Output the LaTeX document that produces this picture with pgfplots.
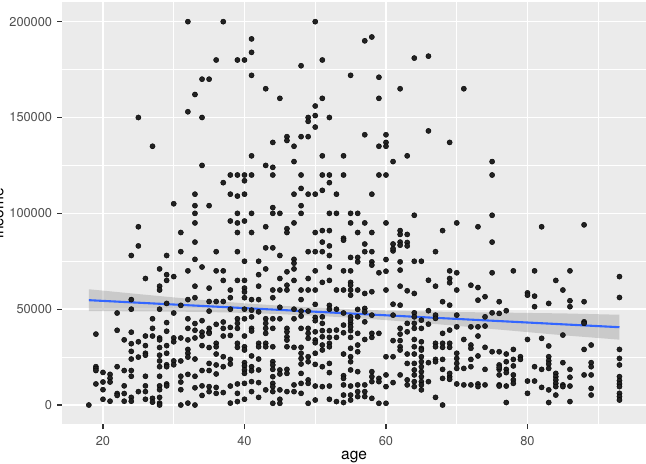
\documentclass[border=0pt]{standalone}
\usepackage{fontspec}
\setmainfont{TeX Gyre Heros}
\usepackage{pgfplots}
\pgfplotsset{compat=1.18}
\usepgfplotslibrary{fillbetween}
\definecolor{panel}{HTML}{EBEBEB}
\definecolor{ticktext}{HTML}{4D4D4D}
\definecolor{tickmark}{HTML}{333333}
\definecolor{lmblue}{HTML}{3366FF}
\definecolor{band}{HTML}{999999}
\definecolor{pt}{HTML}{222222}
\begin{document}
\begin{tikzpicture}
\begin{axis}[name=ax, scale only axis, width=583.7bp, height=421.7bp,
  xmin=14.25, xmax=96.75, ymin=-10000, ymax=210000,
  axis background/.style={fill=panel},
  axis line style={draw=none},
  grid=both,
  major grid style={white, line width=1.4bp},
  minor grid style={white, line width=0.7bp},
  xtick={20,40,60,80}, minor xtick={30,50,70,90},
  ytick={0,50000,100000,150000,200000}, minor ytick={25000,75000,125000,175000},
  xticklabels={20,40,60,80},
  yticklabels={0,50000,100000,150000,200000},
  scaled ticks=false,
  tick align=outside, major tick length=5bp, minor tick length=0pt,
  tick style={tickmark, line width=1.3bp},
  xtick pos=left, ytick pos=left,
  tick label style={font=\fontsize{12.8bp}{14bp}\selectfont, text=ticktext, inner sep=0pt},
  xticklabel style={anchor=north, yshift=-7.2bp},
  yticklabel style={anchor=east, xshift=-5bp},
]
\addplot[only marks, mark=*, mark size=2.6bp, mark options={fill=pt, draw=none}] coordinates {
(32,200000)(34,170000)(35,170000)(33,162000)(32,153000)(25,150000)(34,150000)(27,135000)(34,125000)(33,110000)(30,105000)(33,104000)(35,104000)(33,100000)
(37,200000)(50,200000)(41,191000)(41,184000)(36,180000)(39,180000)(40,180000)(48,177000)(51,180000)(41,172000)(55,172000)(43,165000)(45,160000)(51,160000)(50,156000)(50,151000)(49,150000)(49,148000)(52,150000)(50,145000)(46,140000)(46,138000)(48,140000)(49,140000)(44,137000)(47,135000)(41,130000)(51,130000)(54,130000)(43,125000)(44,124000)(47,127000)(38,120000)(39,120000)(40,120000)(41,120000)(40,117000)(44,120000)(48,120000)(51,120000)(52,120000)(54,120000)(37,116000)(52,116000)(48,113000)(51,112000)(38,110000)(39,109000)(40,110000)(47,110000)(49,110000)(50,110000)(53,110000)(44,103000)(48,104000)(39,100000)(41,100000)(44,100000)(45,100000)(48,100000)(52,100000)(53,100000)(55,100000)
(57,190000)(58,192000)(64,181000)(66,182000)(59,171000)(62,165000)(71,165000)(59,160000)(57,141000)(60,141000)(66,143000)(69,137000)(59,135000)(60,137000)(60,135000)(63,130000)(61,127000)(75,127000)(59,120000)(60,120000)(75,120000)(58,110000)(56,100000)(64,99000)(75,99000)
(33,95000)(25,93000)(31,90000)(33,85000)(25,83000)(24,78000)(29,78000)(31,80000)(33,76000)(28,71000)(32,70000)(34,72000)(29,68000)(30,67000)(29,65000)(26,66000)(28,62000)(28,60000)(33,62000)(35,61000)(32,55000)(33,56000)(24,55000)(35,54000)(29,53000)(31,52000)(24,50000)(28,50000)(35,49000)(22,48000)(30,48000)(27,45000)(32,45000)(33,42500)(34,44000)(29,43000)(27,40000)(32,40000)(33,39000)(34,38000)(35,40000)(22,39000)(19,37000)(24,38000)(29,38500)(26,36000)(27,36000)(28,35000)(28,34000)(30,35000)(30,33000)(31,35000)(32,34000)(33,35000)(34,36000)(35,38000)(23,34000)(25,33000)(24,32000)(26,31000)(26,27000)(26,26000)(24,28000)(28,30000)(28,26000)(29,31000)(29,27000)(32,29000)(32,27000)(32,25000)(33,24000)(34,31000)(35,30000)(25,25000)(24,24000)(31,23000)(30,23000)(30,21000)(29,21000)(29,20000)(28,23000)(28,20000)(19,20000)(19,19000)(19,18000)(22,20000)(23,18000)(24,18000)(24,15000)(20,17000)(21,16000)(21,14000)(21,12000)(20,12000)(19,11000)(20,8000)(20,3000)(21,2000)(18,0)(22,6000)(22,5000)(23,10000)(23,6000)(23,2000)(24,4000)(24,2000)(25,7000)(26,15000)(26,10000)(26,7000)(26,3000)(27,3500)(27,1500)(28,15000)(28,10000)(28,8000)(28,4000)(28,1000)(28,0)(29,11000)(29,10000)(31,15000)(31,12000)(31,8000)(31,0)(32,16000)(32,1000)(33,15000)(33,9000)(33,0)(34,18000)(34,10000)(34,5000)(35,7000)(35,18000)
(38,96000)(39,95000)(40,96000)(43,93000)(47,95000)(55,95000)(39,90000)(41,90000)(46,92000)(46,90000)(50,90000)(51,91000)(52,91000)(54,87000)(54,86000)(51,85000)(52,83000)(43,82000)(44,82000)(45,78000)(36,80000)(39,80000)(49,80000)(50,80000)(51,80000)(52,78000)(47,76000)(47,74000)(47,71000)(40,75000)(42,75000)(55,77000)(43,71000)(36,70000)(37,70000)(46,69500)(50,70000)(54,70000)(55,70000)(52,72000)(42,68000)(47,65000)(37,65000)(39,65000)(40,65000)(45,66000)(49,66000)(51,64000)(52,65000)(55,64000)(55,62500)(38,60000)(40,61000)(40,59000)(42,62000)(44,60000)(45,60000)(46,60000)(46,62500)(48,60000)(49,60000)(50,60000)(53,60000)(54,60000)(55,60000)(55,57300)(38,56000)(40,56000)(44,56000)(48,55000)(50,52500)(36,54000)(37,54000)(41,55000)(42,55000)(52,52000)(52,50000)(53,50000)(38,50000)(40,50000)(41,49500)(42,48600)(45,51000)(47,50000)(48,49000)(48,46400)(49,49000)(50,45700)(50,44000)(54,48000)(40,45000)(41,46000)(43,45000)(44,45000)(45,45000)(47,45000)(51,46000)(55,46000)(37,43300)(36,42100)(38,40500)(39,45000)(39,42600)(39,40000)(35,37400)(37,40000)(37,36000)(38,36300)(41,40000)(41,38600)(43,42600)(43,40000)(43,37400)(44,40000)(46,40000)(46,38200)(46,35600)(46,33900)(48,40000)(49,40000)(49,37400)(49,34800)(50,38200)(50,33900)(50,32500)(51,42600)(51,38800)(51,35600)(52,38800)(52,35300)(53,35300)(53,39100)(54,41700)(54,37700)(55,42600)(55,38800)(55,35300)(40,36000)(42,32200)(42,30400)(43,32200)(43,30400)(44,30400)(36,32200)(36,30400)(36,26600)(39,32200)(39,30100)(40,30400)(40,28700)(41,25600)(46,30400)(47,30100)(48,30100)(48,27000)(48,24300)(49,25200)(49,22600)(50,27000)(51,31300)(51,28700)(52,32200)(52,30400)(54,26600)(55,25200)(55,22600)(37,25200)(38,23800)(38,21400)(35,21700)(36,20900)(37,20000)(36,16200)(40,22100)(40,20400)(40,18300)(40,16500)(41,20000)(41,17900)(42,24000)(42,18300)(44,22600)(44,20900)(44,18600)(44,14800)(45,18300)(46,18600)(46,16500)(45,16200)(48,21400)(48,16500)(49,13100)(49,11300)(50,21200)(51,20000)(52,21700)(52,16900)(54,15300)(54,13900)(54,10500)(55,18300)(38,9900)(39,6100)(39,11000)(40,11300)(41,12200)(35,9600)(36,9200)(36,6100)(37,6500)(38,1000)(39,1800)(40,3000)(42,11700)(42,4000)(43,7900)(44,11300)(44,9600)(44,7000)(44,900)(45,7900)(45,3000)(45,900)(46,7000)(47,10500)(47,7000)(48,11300)(48,6100)(49,900)(50,9900)(50,2600)(51,9600)(52,9900)(52,3000)(53,1800)(54,5200)(54,1300)(55,5200)(55,2600)(41,7000)
(57,95000)(60,95000)(70,95000)(73,93000)(62,91000)(62,89000)(63,89000)(68,91000)(56,90000)(58,90000)(75,85000)(57,84000)(61,84000)(62,85000)(62,83400)(63,84800)(63,83000)(61,80400)(61,81600)(57,80000)(58,80000)(67,80000)(56,77000)(56,74700)(58,74700)(58,73000)(60,75900)(62,74700)(64,75000)(65,75000)(59,69000)(60,69800)(62,70400)(69,70000)(70,69000)(75,69000)(66,65100)(69,66000)(69,63800)(67,62000)(72,62500)(73,61300)(56,60000)(57,58200)(58,59100)(60,60000)(62,62000)(63,59600)(64,58200)(70,60000)(73,54700)(74,56500)(68,53900)(69,52100)(61,52600)(62,52100)(57,50400)(57,48600)(56,49900)(58,46900)(57,43400)(56,46000)(61,46900)(63,42600)(64,48100)(64,46000)(64,42600)(64,40000)(65,44300)(65,40000)(66,42200)(66,49200)(67,46900)(67,45200)(70,46900)(70,40800)(72,40800)(73,40800)(74,46000)(74,41200)(75,48100)(55,44300)(55,40800)(56,37400)(57,34200)(58,35300)(58,37400)(59,37400)(61,33600)(62,40000)(62,37000)(62,33600)(62,30400)(62,28700)(63,38200)(64,34200)(64,30400)(65,33000)(65,29600)(67,32200)(67,30400)(68,37400)(68,32200)(68,30100)(69,39100)(69,32200)(69,30100)(71,34200)(72,31300)(72,29600)(73,36000)(74,30100)(75,27800)(76,27800)(56,31300)(56,27800)(55,29600)(60,25200)(61,25200)(63,26600)(63,21700)(64,26600)(64,21700)(65,28700)(65,25200)(65,22600)(65,20000)(65,17400)(65,14800)(65,12200)(65,7900)(66,22100)(67,23800)(67,22600)(68,23800)(68,18600)(69,14800)(69,16500)(70,27000)(70,24300)(70,21700)(70,19100)(71,19100)(72,23800)(72,20000)(73,25600)(74,18600)(76,20900)(76,18600)(56,17400)(58,17400)(58,14800)(58,12200)(59,13900)(59,12200)(60,15700)(61,11700)(62,15700)(63,13100)(63,10500)(64,18300)(64,15700)(64,12200)(64,9600)(65,10500)(66,12200)(68,13900)(69,13400)(70,11000)(71,10500)(72,10500)(73,11000)(73,9600)(74,10500)(76,10500)(55,9900)(56,10500)(56,7000)(57,10500)(57,7000)(57,4400)(56,4400)(58,3500)(59,900)(60,900)(60,9600)(67,4000)(68,0)
(82,93000)(88,94000)(78,70000)(81,70000)(86,70000)(93,67000)(84,65000)(85,60000)(80,58500)(80,57300)(81,56800)(76,53900)(81,51300)(83,53000)(86,54400)(86,51300)(88,53900)(93,56100)(76,47800)(77,49200)(88,43400)(88,42600)(85,36500)(80,34200)(82,34800)(83,30800)(88,29000)(89,31300)(93,29000)(77,26600)(78,29000)(79,25200)(79,23800)(78,23800)(76,19700)(77,22600)(77,18600)(77,16900)(78,20400)(78,15700)(78,13100)(78,11300)(83,25200)(83,23100)(83,21400)(81,20000)(82,18600)(83,19100)(84,16500)(84,14800)(84,13100)(84,11300)(84,9600)(85,22100)(85,10500)(86,18600)(86,14500)(86,9900)(88,15700)(89,22100)(89,20000)(89,15700)(89,8700)(89,5200)(93,24300)(93,20900)(93,14800)(93,12700)(93,11000)(93,9600)(93,6100)(93,4400)(93,2600)(76,15700)(76,9900)(77,9900)(77,1300)(80,12500)(80,6100)(81,12500)(82,9200)(83,7900)(83,1300)(84,5200)(85,9600)(86,1800)
};
\addplot[name path=up, draw=none, forget plot] coordinates {(18,60400)(25,57884)(30,56144)(35,54504)(40,53064)(45,51824)(50,50784)(55,49944)(60,49304)(65,48864)(70,48524)(75,48284)(80,48044)(85,47804)(93,47100)};
\addplot[name path=lo, draw=none, forget plot] coordinates {(18,49000)(25,48884)(30,48744)(35,48504)(40,48064)(45,47424)(50,46584)(55,45544)(60,44304)(65,42864)(70,41324)(75,39684)(80,38044)(85,36404)(93,34100)};
\addplot[band, fill opacity=0.4, draw=none] fill between[of=up and lo];
\addplot[color=lmblue, no marks, line width=2.1bp] coordinates {(18,54700)(93,40600)};
\end{axis}
\node[anchor=base, font=\fontsize{15.5bp}{17bp}\selectfont] at ([yshift=-35.2bp]ax.south) {age};
\node[anchor=base, rotate=90, font=\fontsize{15.5bp}{17bp}\selectfont] at ([xshift=-58.8bp]ax.west) {income};
\pgfresetboundingbox
\useasboundingbox ([xshift=-62.3bp,yshift=-39.8bp]ax.south west) rectangle ([yshift=2.5bp]ax.north east);
\end{tikzpicture}
\end{document}
